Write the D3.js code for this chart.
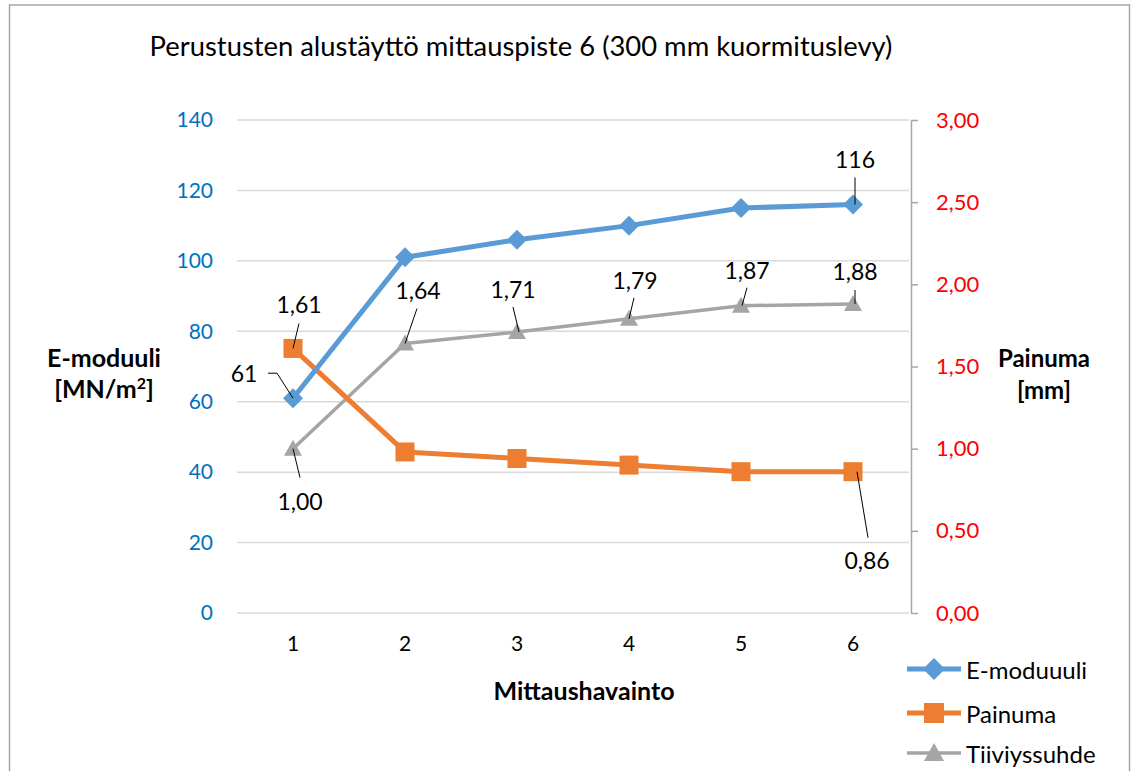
<!DOCTYPE html>
<html><head><meta charset="utf-8">
<script src="https://cdn.jsdelivr.net/npm/d3@7"></script>
<style>
html,body{margin:0;padding:0;background:#fff;}
svg{display:block;font-family:Lato,"Open Sans",sans-serif;}
</style></head>
<body>
<svg id="chart" width="1133" height="771"></svg>
<script>
// ---- data ----
const categories = ["1","2","3","4","5","6"];
const eModuuli = [61, 101, 106, 110, 115, 116];
const painuma = [1.61, 0.98, 0.94, 0.90, 0.86, 0.86];
const tiiviyssuhde = [1.00, 1.64, 1.71, 1.79, 1.87, 1.88];
const leftTicks = [0, 20, 40, 60, 80, 100, 120, 140];
const rightTicks = [0, 0.5, 1.0, 1.5, 2.0, 2.5, 3.0];
const seriesNames = ["E-moduuli", "Painuma", "Tiiviyssuhde"];
const legendNames = ["E-moduuuli", "Painuma", "Tiiviyssuhde"];
const titleText = "Perustusten alustäyttö mittauspiste 6 (300 mm kuormituslevy)";

// ---- layout ----
const FONT = "Lato";
const svg = d3.select("#chart");
const L = 237, R = 909, T = 120, B = 613;
const x = d3.scaleBand().domain(categories).range([L, R]);
const yL = d3.scaleLinear().domain([0, 140]).range([B, T]);
const yR = d3.scaleLinear().domain([0, 3]).range([B, T]);
const cx = c => x(c) + x.bandwidth() / 2;
const fmt = v => d3.format(".2f")(v).replace(".", ",");

// frame
svg.append("rect").attr("x", 9.5).attr("y", 5).attr("width", 1120).attr("height", 800)
  .attr("fill", "none").attr("stroke", "#A6A6A6").attr("stroke-width", 1.5);

// title
const title = svg.append("text").attr("x", 521).attr("y", 45).attr("text-anchor", "middle")
  .attr("dominant-baseline", "central").attr("font-size", 24).attr("fill", "#000").text(titleText);
(function fit(){ const w = title.node().getComputedTextLength(); title.attr("font-size", 24 * 743 / w); })();

// gridlines
svg.append("g").selectAll("line").data(leftTicks).join("line")
  .attr("x1", L).attr("x2", R).attr("y1", d => yL(d)).attr("y2", d => yL(d))
  .attr("stroke", "#D9D9D9").attr("stroke-width", 1.5);

// left axis (labels only)
const gL = svg.append("g").attr("transform", `translate(${L},0)`)
  .call(d3.axisLeft(yL).tickValues(leftTicks).tickSize(0).tickPadding(24));
gL.select(".domain").remove();
gL.selectAll("text").attr("fill", "#0070C0").attr("font-size", 21).attr("font-family", FONT);

// right axis
const gR = svg.append("g").attr("transform", `translate(${R + 2},0)`)
  .call(d3.axisRight(yR).tickValues(rightTicks).tickSize(7).tickSizeOuter(0).tickPadding(18).tickFormat(fmt));
gR.select(".domain").attr("stroke", "#A6A6A6").attr("stroke-width", 1.5);
gR.selectAll(".tick line").attr("stroke", "#A6A6A6").attr("stroke-width", 1.5);
gR.selectAll("text").attr("fill", "#FF0000").attr("font-size", 22).attr("font-family", FONT);

// bottom axis labels
const gB = svg.append("g").attr("transform", `translate(0,${B})`)
  .call(d3.axisBottom(x).tickSize(0).tickPadding(23));
gB.select(".domain").remove();
gB.selectAll("text").attr("fill", "#000").attr("font-size", 21).attr("font-family", FONT);

// axis titles
svg.append("text").attr("x", 584).attr("y", 690).attr("text-anchor", "middle").attr("dominant-baseline", "central")
  .attr("font-weight", "bold").attr("font-size", 25).text("Mittaushavainto");
const lt = svg.append("g").attr("font-weight", "bold").attr("font-size", 25).attr("text-anchor", "middle");
lt.append("text").attr("x", 104).attr("y", 357).attr("dominant-baseline", "central").text("E-moduuli");
const lt2 = lt.append("text").attr("x", 104).attr("y", 398);
lt2.append("tspan").text("[MN/m");
lt2.append("tspan").attr("font-size", 16).attr("dy", -9).text("2");
lt2.append("tspan").attr("dy", 9).text("]");
const rt = svg.append("g").attr("font-weight", "bold").attr("font-size", 24).attr("text-anchor", "middle");
rt.append("text").attr("x", 1044).attr("y", 357).attr("dominant-baseline", "central").text("Painuma");
rt.append("text").attr("x", 1044).attr("y", 389).attr("dominant-baseline", "central").text("[mm]");

// series
const series = [
  {name: seriesNames[0], values: eModuuli, y: yL, color: "#5B9BD5", width: 5, marker: "diamond"},
  {name: seriesNames[1], values: painuma, y: yR, color: "#ED7D31", width: 5, marker: "square"},
  {name: seriesNames[2], values: tiiviyssuhde, y: yR, color: "#A5A5A5", width: 3.5, marker: "triangle"}
];
const markerPath = {
  diamond: "M0,-10L10,0L0,10L-10,0Z",
  square: "M-9.5,-9.5H9.5V9.5H-9.5Z",
  triangle: "M0,-9L9,7H-9Z"
};
const drawOrder = [2, 1, 0];
drawOrder.forEach(i => {
  const s = series[i];
  const line = d3.line().x((d, j) => cx(categories[j])).y(d => s.y(d));
  svg.append("path").datum(s.values).attr("d", line).attr("fill", "none")
    .attr("stroke", s.color).attr("stroke-width", s.width).attr("stroke-linejoin", "round");
  svg.append("g").selectAll("path").data(s.values).join("path")
    .attr("transform", (d, j) => `translate(${cx(categories[j])},${s.y(d)})`)
    .attr("d", markerPath[s.marker]).attr("fill", s.color);
});

// data labels: [seriesIndex, pointIndex, label dx, label dy (center), leader points relative to data point]
const labelSpecs = [
  [0, 0, -49, -25, [[-25, -25], [-16, -25], [0, 0]]],
  [0, 5, 2, -46, [[2, -27], [2, 0]]],
  [1, 0, 6, -44, [[6, -25], [0, 0]]],
  [1, 5, 14, 88, [[15, 66], [4, 0]]],
  [2, 0, 7, 52, [[7, 29], [0, 0]]],
  [2, 1, 13, -53, [[12, -35], [0, 0]]],
  [2, 2, -4, -43, [[-4, -25], [2, 0]]],
  [2, 3, 6, -39, [[5, -21], [0, 0]]],
  [2, 4, 6, -36, [[6, -18], [1, 0]]],
  [2, 5, 2, -33, [[2, -14], [2, 0]]]
];
const lg = svg.append("g");
labelSpecs.forEach(([si, pi, dx, dy, leader]) => {
  const s = series[si];
  const px = cx(categories[pi]), py = s.y(s.values[pi]);
  lg.append("path").attr("d", d3.line()(leader.map(p => [px + p[0], py + p[1]])))
    .attr("fill", "none").attr("stroke", "#000").attr("stroke-width", 1);
  const txt = si === 0 ? String(s.values[pi]) : fmt(s.values[pi]);
  lg.append("text").attr("x", px + dx).attr("y", py + dy).attr("text-anchor", "middle")
    .attr("dominant-baseline", "central").attr("font-size", 23).attr("fill", "#000").text(txt);
});

// legend
const legendY = [669, 713, 753];
const legendMarker = {
  diamond: "M0,-11L11,0L0,11L-11,0Z",
  square: "M-10,-10H10V10H-10Z",
  triangle: "M0,-10L10,8H-10Z"
};
series.forEach((s, i) => {
  const g = svg.append("g").attr("transform", `translate(0,${legendY[i]})`);
  g.append("line").attr("x1", 907).attr("x2", 961).attr("stroke", s.color).attr("stroke-width", s.width);
  g.append("path").attr("transform", "translate(934,0)").attr("d", legendMarker[s.marker]).attr("fill", s.color);
  g.append("text").attr("x", 966).attr("dominant-baseline", "central").attr("font-size", 24).text(legendNames[i]);
});
</script>
</body></html>
